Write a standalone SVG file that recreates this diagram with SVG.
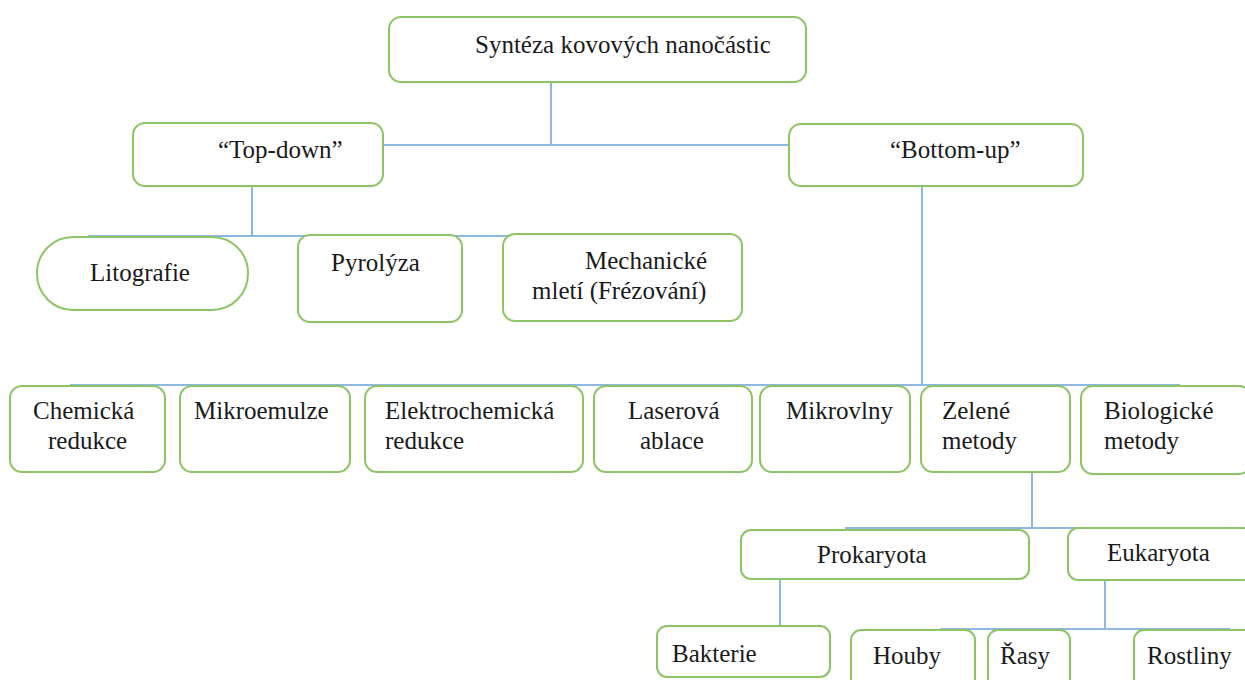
<svg xmlns="http://www.w3.org/2000/svg" width="1245" height="680" viewBox="0 0 1245 680">
<style>
.box{fill:#fff;stroke:#8dc465;stroke-width:2}
.t{font-family:"Liberation Serif","Times New Roman",serif;font-size:25px;fill:#1a1a1a}
.c{stroke:#8cb8e2;stroke-width:2;fill:none}
</style>
<rect width="1245" height="680" fill="#fff"/>
<g id="connectors">
<path class="c" d="M551,82V145M383,145H789"/>
<path class="c" d="M252,186V236M88,236H515"/>
<path class="c" d="M922,186V385M70,385H1180"/>
<path class="c" d="M1032,472V528M845,528H1215"/>
<path class="c" d="M780,579V626"/>
<path class="c" d="M1105,580V629M940,629H1230"/>
</g>
<g id="root"><rect class="box" x="389" y="17" width="417" height="65" rx="12"/><text class="t" x="475" y="53">Syntéza kovových nanočástic</text></g>
<g id="topdown"><rect class="box" x="133" y="123" width="250" height="63" rx="12"/><text class="t" x="218" y="158">“Top-down”</text></g>
<g id="bottomup"><rect class="box" x="789" y="124" width="294" height="62" rx="12"/><text class="t" x="890" y="158">“Bottom-up”</text></g>
<g id="litografie"><rect class="box" x="37" y="237" width="211" height="73" rx="36"/><text class="t" x="90" y="281">Litografie</text></g>
<g id="pyrolyza"><rect class="box" x="298" y="235" width="164" height="87" rx="12"/><text class="t" x="331" y="271">Pyrolýza</text></g>
<g id="mechanicke"><rect class="box" x="503" y="234" width="239" height="87" rx="12"/><text class="t" x="585" y="269">Mechanické</text><text class="t" x="532" y="299">mletí (Frézování)</text></g>
<g id="chemicka"><rect class="box" x="10" y="386" width="155" height="86" rx="12"/><text class="t" x="33" y="419">Chemická</text><text class="t" x="48" y="449">redukce</text></g>
<g id="mikroemulze"><rect class="box" x="180" y="386" width="170" height="86" rx="12"/><text class="t" x="194" y="419">Mikroemulze</text></g>
<g id="elektrochemicka"><rect class="box" x="365" y="386" width="218" height="86" rx="12"/><text class="t" x="385" y="419">Elektrochemická</text><text class="t" x="385" y="449">redukce</text></g>
<g id="laserova"><rect class="box" x="594" y="386" width="158" height="86" rx="12"/><text class="t" x="628" y="419">Laserová</text><text class="t" x="640" y="449">ablace</text></g>
<g id="mikrovlny"><rect class="box" x="760" y="386" width="150" height="86" rx="12"/><text class="t" x="786" y="419">Mikrovlny</text></g>
<g id="zelene"><rect class="box" x="921" y="386" width="149" height="86" rx="12"/><text class="t" x="942" y="419">Zelené</text><text class="t" x="942" y="449">metody</text></g>
<g id="biologicke"><rect class="box" x="1081" y="386" width="170" height="88" rx="12"/><text class="t" x="1104" y="419">Biologické</text><text class="t" x="1104" y="449">metody</text></g>
<g id="prokaryota"><rect class="box" x="741" y="530" width="288" height="49" rx="10"/><text class="t" x="817" y="563">Prokaryota</text></g>
<g id="eukaryota"><rect class="box" x="1068" y="528" width="185" height="52" rx="10"/><text class="t" x="1107" y="561">Eukaryota</text></g>
<g id="bakterie"><rect class="box" x="657" y="626" width="173" height="51" rx="10"/><text class="t" x="672" y="662">Bakterie</text></g>
<g id="houby"><rect class="box" x="851" y="630" width="124" height="60" rx="10"/><text class="t" x="873" y="664">Houby</text></g>
<g id="rasy"><rect class="box" x="988" y="630" width="82" height="60" rx="10"/><text class="t" x="1000" y="664">Řasy</text></g>
<g id="rostliny"><rect class="box" x="1134" y="630" width="120" height="60" rx="10"/><text class="t" x="1147" y="664">Rostliny</text></g>
</svg>
